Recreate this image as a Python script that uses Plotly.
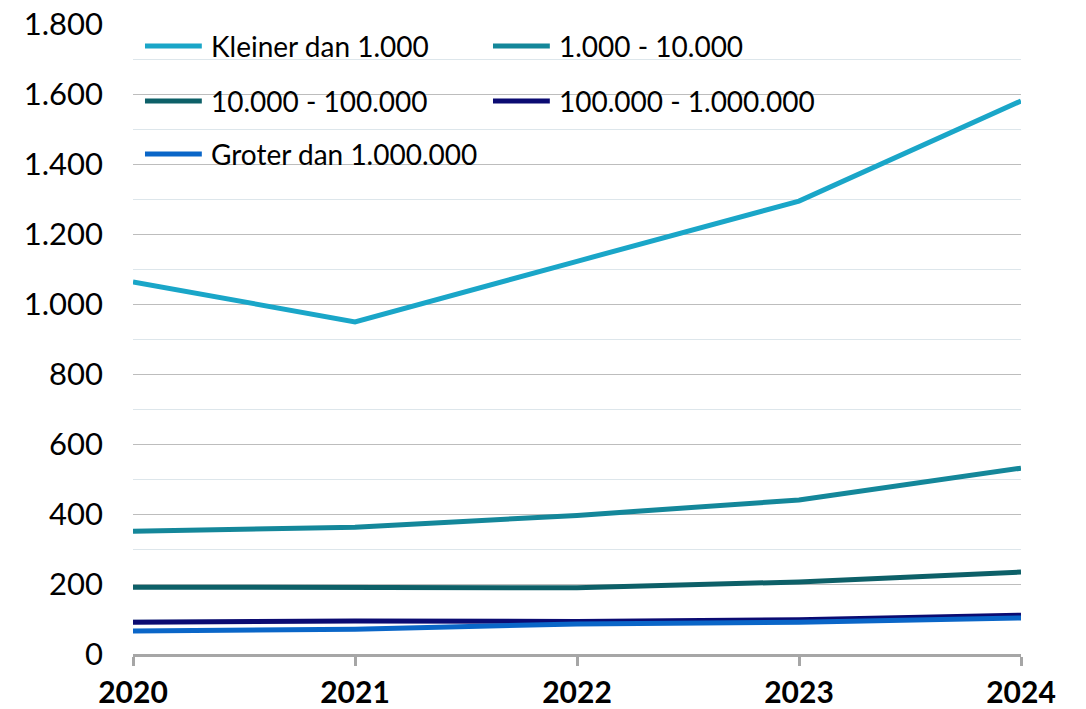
import plotly.graph_objects as go

# data
years = [2020, 2021, 2022, 2023, 2024]
series_names = ['Kleiner dan 1.000', '1.000 - 10.000', '10.000 - 100.000',
                '100.000 - 1.000.000', 'Groter dan 1.000.000']
kleiner = [1063, 949, 1122, 1294, 1580]
k1_10 = [351, 362, 396, 440, 531]
k10_100 = [191, 191, 189, 206, 234]
k100_1000 = [91, 94, 93, 98, 111]
groter = [66, 71, 86, 91, 103]
y_ticks = [0, 200, 400, 600, 800, 1000, 1200, 1400, 1600, 1800]
colors = ['#1AA6C8', '#14879A', '#0D6068', '#0B0B72', '#0A66C8']

all_values = [kleiner, k1_10, k10_100, k100_1000, groter]

fig = go.Figure()
for name, vals, col in zip(series_names, all_values, colors):
    fig.add_trace(go.Scatter(x=years, y=vals, name=name, mode='lines',
                             line=dict(color=col, width=5),
                             cliponaxis=False, showlegend=False))

# handmade legend (two columns, white box over the grid)
fig.add_shape(type='rect', xref='paper', yref='paper', x0=0, x1=0.784, y0=0.75, y1=1.0,
              fillcolor='white', line_width=0, layer='between')
leg_cols = [0.0135, 0.4054]
leg_rows = [0.965, 0.8778, 0.7937]
for i, (name, col) in enumerate(zip(series_names, colors)):
    cx = leg_cols[i % 2]
    cy = leg_rows[i // 2]
    fig.add_shape(type='line', xref='paper', yref='paper', x0=cx, x1=cx + 0.064,
                  y0=cy, y1=cy, line=dict(color=col, width=5))
    fig.add_annotation(xref='paper', yref='paper', x=cx + 0.072, y=cy, text=name,
                       showarrow=False, xanchor='left', yanchor='middle',
                       font=dict(size=28, color='black', family='Lato'))

# page body has an 8px margin, so the plot box is placed 8px up/left
fig.update_layout(
    width=1086, height=709,
    margin=dict(l=125, r=73, t=16, b=63),
    plot_bgcolor='white', paper_bgcolor='white',
    separators=',.',
    font=dict(family='Lato', color='black'),
)
fig.update_xaxes(
    range=[2020, 2024], tickvals=years, showgrid=False, automargin=False,
    showline=True, linecolor='#A6A6A6', linewidth=3,
    ticks='outside', ticklen=9, tickwidth=3, tickcolor='#A6A6A6',
    tickfont=dict(size=30, family='Lato', color='black', weight='bold'),
    ticklabelstandoff=1, zeroline=False,
)
fig.update_yaxes(
    range=[0, 1800], tickmode='array', tickvals=y_ticks, tickformat=',d',
    automargin=False, ticklabeloverflow='allow',
    showgrid=True, gridcolor='#BDBDBD', gridwidth=1,
    minor=dict(dtick=100, showgrid=True, gridcolor='#DDE6EB', gridwidth=1),
    zeroline=False, showline=False,
    tickfont=dict(size=31, family='Lato', color='black'),
    ticklabelstandoff=29,
)

fig.write_html('out.html')
